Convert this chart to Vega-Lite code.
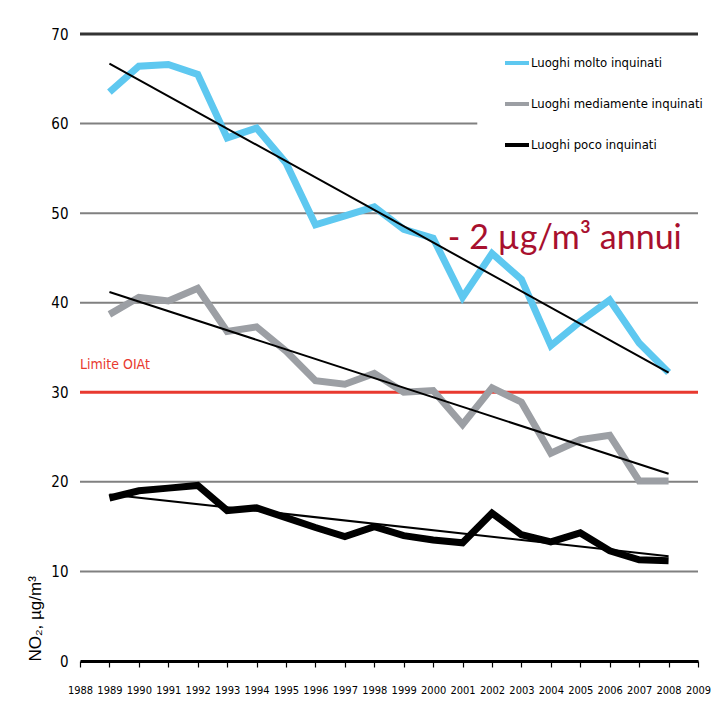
{
  "$schema": "https://vega.github.io/schema/vega-lite/v6.json",
  "width": 618,
  "height": 627,
  "autosize": "none",
  "padding": {"left": 80, "top": 34, "right": 13, "bottom": 48},
  "background": "white",
  "config": {
    "view": {"stroke": null},
    "font": "DejaVu Sans Condensed, Liberation Sans, sans-serif"
  },
  "datasets": {
    "series": [
      {"year": 1989, "value": 63.5, "series": "Luoghi molto inquinati"},
      {"year": 1990, "value": 66.4, "series": "Luoghi molto inquinati"},
      {"year": 1991, "value": 66.6, "series": "Luoghi molto inquinati"},
      {"year": 1992, "value": 65.5, "series": "Luoghi molto inquinati"},
      {"year": 1993, "value": 58.4, "series": "Luoghi molto inquinati"},
      {"year": 1994, "value": 59.5, "series": "Luoghi molto inquinati"},
      {"year": 1995, "value": 55.6, "series": "Luoghi molto inquinati"},
      {"year": 1996, "value": 48.7, "series": "Luoghi molto inquinati"},
      {"year": 1997, "value": 49.7, "series": "Luoghi molto inquinati"},
      {"year": 1998, "value": 50.7, "series": "Luoghi molto inquinati"},
      {"year": 1999, "value": 48.2, "series": "Luoghi molto inquinati"},
      {"year": 2000, "value": 47.2, "series": "Luoghi molto inquinati"},
      {"year": 2001, "value": 40.6, "series": "Luoghi molto inquinati"},
      {"year": 2002, "value": 45.5, "series": "Luoghi molto inquinati"},
      {"year": 2003, "value": 42.6, "series": "Luoghi molto inquinati"},
      {"year": 2004, "value": 35.2, "series": "Luoghi molto inquinati"},
      {"year": 2005, "value": 37.9, "series": "Luoghi molto inquinati"},
      {"year": 2006, "value": 40.3, "series": "Luoghi molto inquinati"},
      {"year": 2007, "value": 35.5, "series": "Luoghi molto inquinati"},
      {"year": 2008, "value": 32.2, "series": "Luoghi molto inquinati"},
      {"year": 1989, "value": 38.7, "series": "Luoghi mediamente inquinati"},
      {"year": 1990, "value": 40.6, "series": "Luoghi mediamente inquinati"},
      {"year": 1991, "value": 40.2, "series": "Luoghi mediamente inquinati"},
      {"year": 1992, "value": 41.6, "series": "Luoghi mediamente inquinati"},
      {"year": 1993, "value": 36.8, "series": "Luoghi mediamente inquinati"},
      {"year": 1994, "value": 37.3, "series": "Luoghi mediamente inquinati"},
      {"year": 1995, "value": 34.6, "series": "Luoghi mediamente inquinati"},
      {"year": 1996, "value": 31.3, "series": "Luoghi mediamente inquinati"},
      {"year": 1997, "value": 30.9, "series": "Luoghi mediamente inquinati"},
      {"year": 1998, "value": 32.1, "series": "Luoghi mediamente inquinati"},
      {"year": 1999, "value": 30.0, "series": "Luoghi mediamente inquinati"},
      {"year": 2000, "value": 30.2, "series": "Luoghi mediamente inquinati"},
      {"year": 2001, "value": 26.4, "series": "Luoghi mediamente inquinati"},
      {"year": 2002, "value": 30.5, "series": "Luoghi mediamente inquinati"},
      {"year": 2003, "value": 28.9, "series": "Luoghi mediamente inquinati"},
      {"year": 2004, "value": 23.2, "series": "Luoghi mediamente inquinati"},
      {"year": 2005, "value": 24.7, "series": "Luoghi mediamente inquinati"},
      {"year": 2006, "value": 25.2, "series": "Luoghi mediamente inquinati"},
      {"year": 2007, "value": 20.1, "series": "Luoghi mediamente inquinati"},
      {"year": 2008, "value": 20.1, "series": "Luoghi mediamente inquinati"},
      {"year": 1989, "value": 18.2, "series": "Luoghi poco inquinati"},
      {"year": 1990, "value": 19.0, "series": "Luoghi poco inquinati"},
      {"year": 1991, "value": 19.3, "series": "Luoghi poco inquinati"},
      {"year": 1992, "value": 19.6, "series": "Luoghi poco inquinati"},
      {"year": 1993, "value": 16.8, "series": "Luoghi poco inquinati"},
      {"year": 1994, "value": 17.1, "series": "Luoghi poco inquinati"},
      {"year": 1995, "value": 16.0, "series": "Luoghi poco inquinati"},
      {"year": 1996, "value": 14.9, "series": "Luoghi poco inquinati"},
      {"year": 1997, "value": 13.9, "series": "Luoghi poco inquinati"},
      {"year": 1998, "value": 15.0, "series": "Luoghi poco inquinati"},
      {"year": 1999, "value": 14.0, "series": "Luoghi poco inquinati"},
      {"year": 2000, "value": 13.5, "series": "Luoghi poco inquinati"},
      {"year": 2001, "value": 13.2, "series": "Luoghi poco inquinati"},
      {"year": 2002, "value": 16.5, "series": "Luoghi poco inquinati"},
      {"year": 2003, "value": 14.1, "series": "Luoghi poco inquinati"},
      {"year": 2004, "value": 13.3, "series": "Luoghi poco inquinati"},
      {"year": 2005, "value": 14.3, "series": "Luoghi poco inquinati"},
      {"year": 2006, "value": 12.3, "series": "Luoghi poco inquinati"},
      {"year": 2007, "value": 11.3, "series": "Luoghi poco inquinati"},
      {"year": 2008, "value": 11.2, "series": "Luoghi poco inquinati"}
    ],
    "trend": [
      {"year": 1989, "value": 66.7, "series": "molto"},
      {"year": 2008, "value": 32.2, "series": "molto"},
      {"year": 1989, "value": 41.2, "series": "medio"},
      {"year": 2008, "value": 20.9, "series": "medio"},
      {"year": 1989, "value": 18.6, "series": "poco"},
      {"year": 2008, "value": 11.7, "series": "poco"}
    ],
    "grid": [
      {"value": 10, "year": 1988, "to": 2009},
      {"value": 20, "year": 1988, "to": 2009},
      {"value": 40, "year": 1988, "to": 2009},
      {"value": 50, "year": 1988, "to": 2009},
      {"value": 60, "year": 1988, "to": 2001.5}
    ]
  },
  "encoding": {
    "x": {
      "field": "year", "type": "quantitative",
      "scale": {"domain": [1988, 2009], "nice": false, "zero": false},
      "axis": {
        "title": null, "values": [1988,1989,1990,1991,1992,1993,1994,1995,1996,1997,1998,1999,2000,2001,2002,2003,2004,2005,2006,2007,2008,2009],
        "format": "d", "labelOverlap": false, "labelFlush": false, "labelBound": false, "grid": false,
        "domainColor": "black", "domainWidth": 3, "tickColor": "black", "tickWidth": 1.2, "tickSize": 6,
        "labelFontSize": 11, "labelColor": "black", "labelPadding": 17
      }
    },
    "y": {
      "field": "value", "type": "quantitative",
      "scale": {"domain": [0, 70], "nice": false},
      "axis": {
        "title": "NO₂,  µg/m³", "titleAnchor": "start", "titleAngle": -90, "titleFontSize": 17, "titleFontWeight": "normal",
        "titleColor": "black", "titlePadding": 6, "titleFont": "Liberation Sans",
        "values": [0,10,20,30,40,50,60,70], "grid": false, "domain": false, "ticks": false,
        "labelFontSize": 15, "labelColor": "black", "labelPadding": 12
      }
    }
  },
  "layer": [
    {
      "data": {"name": "grid"},
      "mark": {"type": "rule", "color": "#808080", "strokeWidth": 2},
      "encoding": {
        "x2": {"field": "to"}
      }
    },
    {
      "data": {"values": [{"value": 70, "year": 1988, "to": 2009}]},
      "mark": {"type": "rule", "color": "#333333", "strokeWidth": 3},
      "encoding": {
        "x2": {"field": "to"}
      }
    },
    {
      "data": {"values": [{"value": 30, "year": 1988, "to": 2009}]},
      "mark": {"type": "rule", "color": "#e8392f", "strokeWidth": 3},
      "encoding": {
        "x2": {"field": "to"}
      }
    },
    {
      "data": {"name": "series"},
      "mark": {"type": "line", "strokeWidth": 7, "strokeJoin": "miter", "strokeCap": "butt"},
      "encoding": {
        "color": {
          "field": "series", "type": "nominal",
          "scale": {
            "domain": ["Luoghi molto inquinati", "Luoghi mediamente inquinati", "Luoghi poco inquinati"],
            "range": ["#5ec8f0", "#9c9fa4", "#000000"]
          },
          "legend": {
            "title": null, "orient": "none", "legendX": 423, "legendY": 15,
            "symbolType": "stroke", "symbolSize": 576, "symbolStrokeWidth": 4,
            "labelFontSize": 13, "labelColor": "black", "labelLimit": 400,
            "rowPadding": 19, "labelOffset": 0
          }
        }
      }
    },
    {
      "data": {"name": "trend"},
      "mark": {"type": "line", "color": "black", "strokeWidth": 2},
      "encoding": {
        "detail": {"field": "series"}
      }
    },
    {
      "data": {"values": [{"year": 1988, "value": 33, "label": "Limite OIAt"}]},
      "mark": {"type": "text", "align": "left", "baseline": "middle", "color": "#e8392f", "fontSize": 14},
      "encoding": {
        "text": {"field": "label"}
      }
    },
    {
      "data": {"values": [{"year": 2000.5, "value": 47.1, "label": "- 2 µg/m³ annui"}]},
      "mark": {"type": "text", "align": "left", "baseline": "middle", "color": "#a8102e", "fontSize": 34, "font": "Lato"},
      "encoding": {
        "text": {"field": "label"}
      }
    }
  ]
}
